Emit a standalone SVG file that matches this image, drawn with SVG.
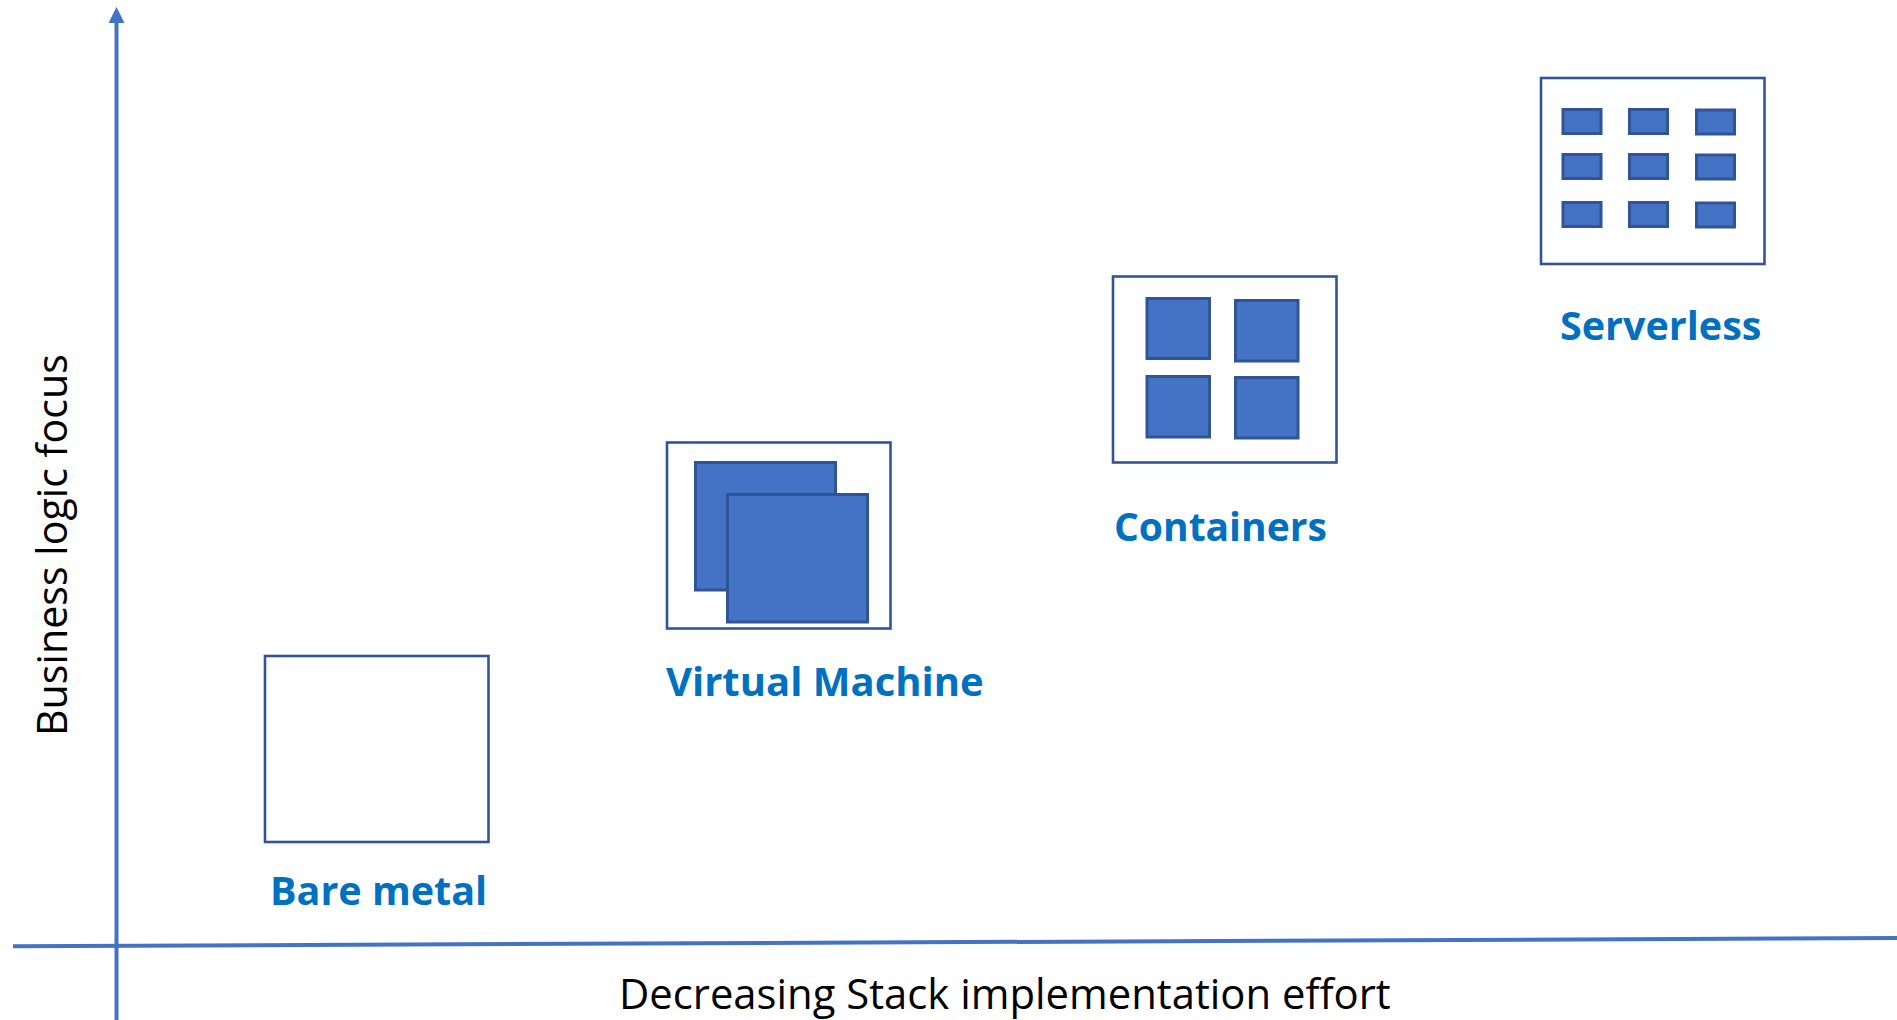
<svg xmlns="http://www.w3.org/2000/svg" width="1897" height="1020" viewBox="0 0 1897 1020">
<style>
.axis{stroke:#4472C4;stroke-width:4;fill:none}
.box{fill:#fff;stroke:#2F5597;stroke-width:2.6}
.in{fill:#4472C4;stroke:#2F5597;stroke-width:3}
.lb{font-family:"Open Sans","Noto Sans",sans-serif;font-weight:700;font-size:39.5px;fill:#0070C0}
.ax{font-family:"Open Sans","Noto Sans",sans-serif;font-size:41.5px;fill:#000}
</style>
<defs><marker id="ah" markerUnits="userSpaceOnUse" markerWidth="16" markerHeight="16" refX="0" refY="8" orient="auto"><path d="M0 0L16 8L0 16Z" fill="#4472C4"/></marker></defs>
<rect width="1897" height="1020" fill="#fff"/>
<g id="connectors">
<line class="axis" x1="116.5" y1="1020" x2="116.5" y2="23" marker-end="url(#ah)"/>
<line class="axis" x1="13" y1="946.3" x2="1897" y2="938"/>
</g>
<g id="bare-metal"><rect class="box" x="265" y="656" width="223.500" height="186"/><text class="lb" x="270" y="905">Bare metal</text></g>
<g id="virtual-machine"><rect class="box" x="667" y="442.5" width="223.5" height="186"/><rect class="in" x="695.5" y="462.5" width="140" height="127.5"/><rect class="in" x="727.5" y="494.5" width="140" height="127.5"/><text class="lb" style="font-size:40px" x="666" y="696">Virtual Machine</text></g>
<g id="containers"><rect class="box" x="1113" y="276.5" width="223.5" height="186"/>
<rect class="in" x="1147" y="298.5" width="62.500" height="60"/><rect class="in" x="1235.500" y="300.500" width="62.500" height="60.500"/><rect class="in" x="1147" y="376.500" width="62.500" height="60.500"/><rect class="in" x="1235.500" y="377.500" width="62.500" height="60.500"/>
<text class="lb" style="font-size:39px" x="1114" y="540.500">Containers</text></g>
<g id="serverless"><rect class="box" x="1541" y="78" width="223.500" height="186"/>
<rect class="in" x="1563" y="109.500" width="38" height="24"/><rect class="in" x="1629.500" y="109.500" width="38" height="24"/><rect class="in" x="1696.500" y="110" width="38" height="24"/>
<rect class="in" x="1563" y="154.500" width="38" height="24"/><rect class="in" x="1629.500" y="154.500" width="38" height="24"/><rect class="in" x="1696.500" y="155" width="38" height="24"/>
<rect class="in" x="1563" y="202.500" width="38" height="24"/><rect class="in" x="1629.500" y="202.500" width="38" height="24"/><rect class="in" x="1696.500" y="203" width="38" height="24"/>
<text class="lb" x="1560" y="339.500">Serverless</text></g>
<text class="ax" style="font-size:41.8px" x="619" y="1009">Decreasing Stack implementation effort</text>
<text class="ax" style="font-size:41.2px" transform="translate(67 736) rotate(-90)">Business logic focus</text>
</svg>
